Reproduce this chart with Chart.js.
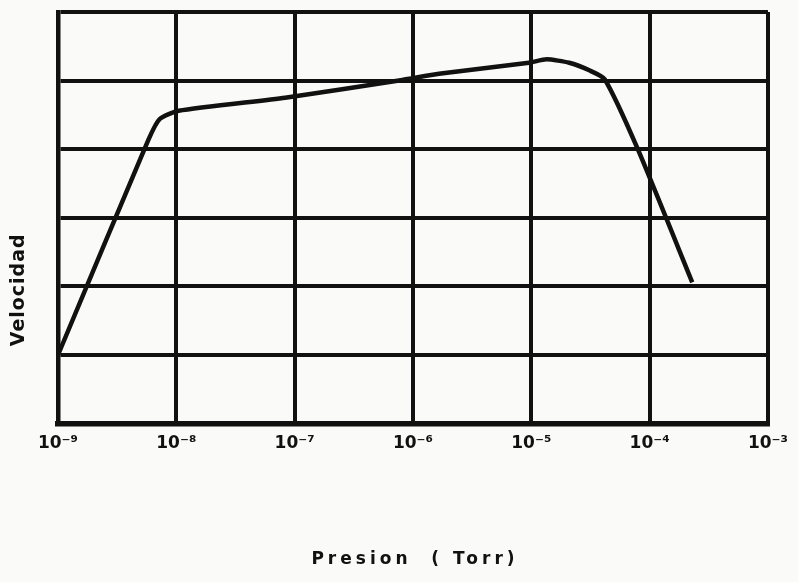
<!DOCTYPE html>
<html>
<head>
<meta charset="utf-8">
<script src="https://cdn.jsdelivr.net/npm/chart.js@4/dist/chart.umd.min.js"></script>
<style>
  html, body { margin: 0; padding: 0; background: #fafaf8; }
  #grafik { display: block; }
</style>
</head>
<body>
<canvas id="grafik" width="798" height="582"></canvas>
<script>
// exponente de la presion (10^x Torr)
const presionExp = [-9.0, -8.24, -8.14, -7.98, -7.08, -6.09, -5.78, -5.02, -4.87, -4.68, -4.51, -4.38, -4.10, -3.64];
// velocidad (unidades de la rejilla, sin escala)
const velocidad = [1.0, 4.12, 4.44, 4.56, 4.75, 5.01, 5.10, 5.26, 5.31, 5.26, 5.15, 5.02, 4.00, 2.06];
// etiquetas del eje x
const decadas = [-9, -8, -7, -6, -5, -4, -3];
const etiquetasX = ['10⁻⁹', '10⁻⁸', '10⁻⁷', '10⁻⁶', '10⁻⁵', '10⁻⁴', '10⁻³'];

const tinta = '#111111';

// titulos de los ejes, dibujados a mano
const titulos = {
  id: 'titulos',
  afterDraw(chart) {
    const ctx = chart.ctx;
    const area = chart.chartArea;
    ctx.save();
    ctx.fillStyle = tinta;
    ctx.font = 'bold 19px "DejaVu Sans"';
    ctx.letterSpacing = '1px';
    ctx.textAlign = 'center';
    ctx.textBaseline = 'middle';
    ctx.translate(19, area.top + (area.bottom - area.top) * 0.675);
    ctx.rotate(-Math.PI / 2);
    ctx.fillText('Velocidad', 0, 0);
    ctx.restore();

    ctx.save();
    ctx.fillStyle = tinta;
    ctx.font = 'bold 17px "DejaVu Sans"';
    ctx.letterSpacing = '4px';
    ctx.textAlign = 'center';
    ctx.textBaseline = 'middle';
    ctx.fillText('Presion  ( Torr)', (area.left + area.right) / 2 + 2, 560);
    ctx.restore();
  }
};

new Chart(document.getElementById('grafik'), {
  type: 'line',
  data: {
    datasets: [{
      data: presionExp.map((x, i) => ({ x: x, y: velocidad[i] })),
      borderColor: tinta,
      borderWidth: 4.5,
      pointRadius: 0,
      tension: 0.2,
      fill: false
    }]
  },
  options: {
    responsive: false,
    animation: false,
    layout: { padding: { left: 58, right: 30, top: 12, bottom: 118 } },
    plugins: { legend: { display: false }, tooltip: { enabled: false } },
    scales: {
      x: {
        type: 'linear',
        min: -9,
        max: -3,
        afterBuildTicks(scale) { scale.ticks = decadas.map(v => ({ value: v })); },
        grid: { color: tinta, lineWidth: 4, drawTicks: false },
        border: { color: tinta, width: 5.5 },
        ticks: {
          color: tinta,
          padding: 10,
          maxRotation: 0,
          font: { family: '"DejaVu Sans"', size: 17, weight: 'bold' },
          callback: (v) => etiquetasX[decadas.indexOf(v)]
        }
      },
      y: {
        min: 0,
        max: 6,
        ticks: { display: false, stepSize: 1 },
        grid: { color: tinta, lineWidth: 4, drawTicks: false },
        border: { color: tinta, width: 4.5 }
      }
    }
  },
  plugins: [titulos]
});
</script>
</body>
</html>
